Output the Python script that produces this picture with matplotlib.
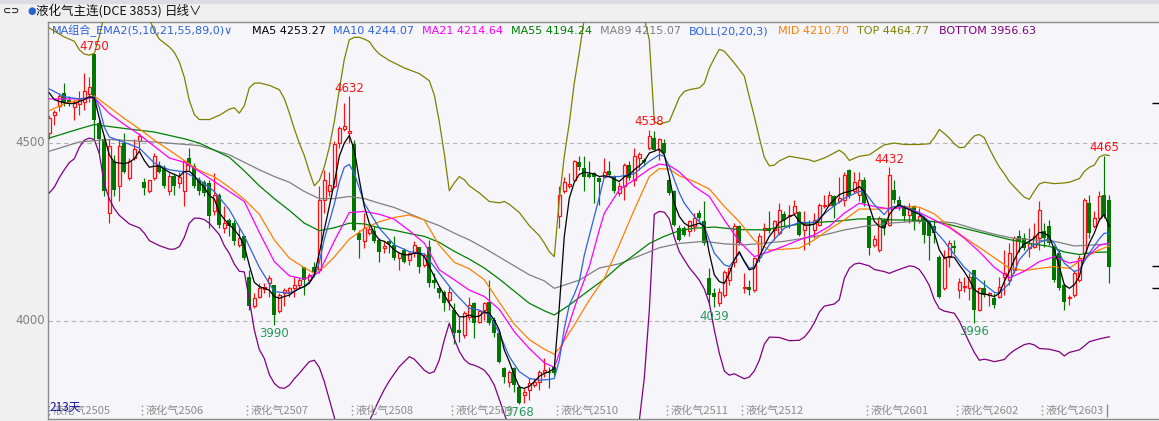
import numpy as np
import matplotlib
matplotlib.use("Agg")
import matplotlib.pyplot as plt
from matplotlib.patches import Rectangle

# ---- daily candles (213 days) ----
opens = [4528, 4579, 4603, 4641, 4620, 4602, 4611, 4616, 4639, 4749,
         4556, 4510, 4303, 4449, 4378, 4500, 4402, 4458, 4505, 4390,
         4364, 4402, 4439, 4430, 4364, 4408, 4388, 4364, 4458, 4436,
         4397, 4392, 4388, 4308, 4355, 4261, 4284, 4275, 4214, 4238,
         4125, 4041, 4069, 4089, 4106, 4102, 4027, 4078, 4083, 4092,
         4102, 4153, 4116, 4153, 4144, 4341, 4364, 4378, 4500, 4540,
         4528, 4496, 4247, 4224, 4247, 4252, 4228, 4205, 4224, 4214,
         4177, 4200, 4172, 4191, 4209, 4158, 4209, 4116, 4092, 4083,
         4059, 4031, 3975, 3961, 4012, 4050, 3998, 4031, 4055, 4003,
         3966, 3867, 3830, 3867, 3815, 3792, 3806, 3820, 3830, 3858,
         3858, 3872, 4294, 4364, 4378, 4397, 4446, 4430, 4414, 4416,
         4402, 4406, 4422, 4405, 4360, 4378, 4439, 4397, 4458, 4453,
         4486, 4514, 4481, 4500, 4397, 4364, 4261, 4261, 4252, 4266,
         4303, 4280, 4120, 4078, 4050, 4073, 4116, 4167, 4266, 4092,
         4097, 4087, 4181, 4256, 4261, 4256, 4247, 4301, 4294, 4303,
         4306, 4256, 4270, 4256, 4270, 4322, 4327, 4350, 4336, 4341,
         4423, 4364, 4355, 4397, 4294, 4214, 4200, 4284, 4270, 4369,
         4341, 4322, 4299, 4322, 4280, 4289, 4280, 4266, 4181, 4092,
         4181, 4211, 4087, 4095, 4092, 4144, 4031, 4092, 4073, 4064,
         4069, 4125, 4116, 4144, 4238, 4233, 4205, 4209, 4233, 4252,
         4266, 4209, 4191, 4102, 4064, 4073, 4116, 4191, 4331, 4266,
         4289, 4355, 4341]
highs = [4580, 4594, 4641, 4669, 4632, 4622, 4646, 4697, 4686, 4750,
         4566, 4524, 4510, 4467, 4510, 4528, 4458, 4510, 4528, 4402,
         4397, 4472, 4449, 4439, 4416, 4416, 4420, 4453, 4486, 4444,
         4406, 4397, 4397, 4416, 4360, 4322, 4289, 4284, 4261, 4242,
         4144, 4078, 4106, 4106, 4130, 4102, 4078, 4092, 4097, 4125,
         4120, 4153, 4134, 4167, 4378, 4425, 4420, 4505, 4547, 4613,
         4632, 4508, 4256, 4303, 4270, 4266, 4233, 4224, 4228, 4238,
         4195, 4205, 4195, 4224, 4209, 4191, 4228, 4134, 4097, 4087,
         4097, 4050, 4012, 4027, 4069, 4055, 4031, 4055, 4116, 4012,
         3970, 3872, 3862, 3872, 3820, 3811, 3839, 3839, 3862, 3895,
         3872, 3877, 4378, 4406, 4416, 4453, 4463, 4463, 4449, 4420,
         4406, 4458, 4449, 4411, 4392, 4444, 4449, 4486, 4474, 4458,
         4538, 4533, 4514, 4510, 4402, 4369, 4270, 4266, 4284, 4303,
         4313, 4336, 4148, 4092, 4092, 4144, 4153, 4275, 4270, 4134,
         4116, 4181, 4247, 4275, 4308, 4284, 4331, 4308, 4327, 4341,
         4308, 4308, 4284, 4303, 4331, 4355, 4364, 4355, 4406, 4420,
         4427, 4420, 4420, 4406, 4294, 4242, 4294, 4289, 4432, 4397,
         4350, 4327, 4331, 4327, 4317, 4294, 4284, 4280, 4186, 4200,
         4228, 4228, 4120, 4125, 4134, 4144, 4097, 4116, 4083, 4078,
         4125, 4200, 4219, 4238, 4256, 4247, 4261, 4275, 4336, 4275,
         4284, 4214, 4200, 4106, 4073, 4144, 4186, 4346, 4355, 4308,
         4364, 4465, 4355]
lows = [4510, 4552, 4589, 4603, 4603, 4566, 4580, 4594, 4615, 4510,
        4472, 4350, 4275, 4350, 4336, 4416, 4397, 4453, 4477, 4355,
        4360, 4397, 4416, 4374, 4355, 4355, 4374, 4322, 4425, 4374,
        4355, 4350, 4261, 4299, 4261, 4247, 4238, 4214, 4209, 4172,
        4031, 4036, 4064, 4078, 4069, 3990, 4022, 4041, 4069, 4069,
        4092, 4073, 4111, 4134, 4134, 4303, 4350, 4374, 4486, 4533,
        4500, 4252, 4177, 4205, 4242, 4219, 4167, 4191, 4191, 4172,
        4144, 4163, 4158, 4181, 4134, 4153, 4097, 4092, 4064, 4027,
        4031, 3937, 3942, 3952, 4003, 3952, 3994, 4003, 3989, 3956,
        3881, 3825, 3815, 3801, 3768, 3770, 3778, 3815, 3806, 3844,
        3811, 3848, 4261, 4360, 4374, 4392, 4425, 4364, 4402, 4331,
        4327, 4402, 4406, 4360, 4350, 4341, 4397, 4378, 4425, 4435,
        4481, 4481, 4453, 4467, 4355, 4266, 4224, 4238, 4238, 4252,
        4284, 4214, 4045, 4039, 4041, 4069, 4102, 4153, 4214, 4078,
        4073, 4083, 4167, 4219, 4247, 4228, 4242, 4266, 4261, 4299,
        4238, 4200, 4214, 4233, 4266, 4317, 4322, 4289, 4331, 4322,
        4346, 4360, 4336, 4322, 4186, 4209, 4195, 4242, 4266, 4331,
        4313, 4280, 4275, 4256, 4275, 4219, 4172, 4219, 4064, 4087,
        4153, 4191, 4064, 4083, 4059, 3996, 4027, 4069, 4041, 4036,
        4064, 4073, 4102, 4134, 4195, 4200, 4181, 4205, 4200, 4209,
        4214, 4111, 4087, 4031, 4045, 4069, 4111, 4177, 4233, 4261,
        4280, 4289, 4106]
closes = [4571, 4587, 4633, 4613, 4611, 4615, 4622, 4646, 4658, 4566,
          4510, 4364, 4491, 4369, 4491, 4420, 4449, 4483, 4519, 4374,
          4395, 4465, 4420, 4378, 4408, 4378, 4406, 4449, 4435, 4378,
          4364, 4360, 4294, 4355, 4270, 4275, 4266, 4224, 4233, 4177,
          4041, 4064, 4092, 4097, 4120, 4017, 4073, 4087, 4092, 4102,
          4116, 4116, 4130, 4139, 4341, 4397, 4383, 4496, 4542, 4549,
          4533, 4256, 4228, 4261, 4258, 4224, 4195, 4211, 4217, 4177,
          4191, 4167, 4191, 4214, 4153, 4186, 4106, 4106, 4078, 4050,
          4083, 3966, 3966, 4022, 4045, 3994, 4027, 4050, 3994, 3966,
          3886, 3844, 3858, 3820, 3769, 3801, 3825, 3830, 3858, 3862,
          3853, 3853, 4355, 4392, 4386, 4449, 4433, 4406, 4406, 4406,
          4392, 4420, 4411, 4364, 4378, 4439, 4402, 4463, 4469, 4446,
          4519, 4481, 4510, 4472, 4360, 4270, 4228, 4242, 4280, 4289,
          4289, 4219, 4073, 4069, 4083, 4139, 4148, 4266, 4219, 4095,
          4087, 4177, 4238, 4261, 4252, 4280, 4313, 4284, 4299, 4322,
          4242, 4270, 4266, 4284, 4327, 4327, 4355, 4322, 4346, 4411,
          4350, 4392, 4397, 4331, 4205, 4230, 4289, 4261, 4411, 4341,
          4322, 4294, 4317, 4280, 4294, 4242, 4238, 4247, 4069, 4177,
          4219, 4205, 4111, 4099, 4125, 4031, 4092, 4073, 4078, 4045,
          4097, 4134, 4191, 4233, 4224, 4205, 4219, 4238, 4313, 4233,
          4219, 4116, 4092, 4055, 4069, 4134, 4177, 4341, 4247, 4289,
          4350, 4294, 4153]

# ---- indicator lines ----
ma5 = [4641, 4622, 4617, 4613, 4611, 4611, 4617, 4622, 4630, 4627,
       4570, 4519, 4467, 4446, 4444, 4442, 4446, 4456, 4477, 4451,
       4432, 4435, 4435, 4427, 4418, 4412, 4406, 4420, 4421, 4408,
       4390, 4375, 4353, 4343, 4305, 4286, 4271, 4257, 4239, 4211,
       4157, 4109, 4097, 4092, 4087, 4069, 4064, 4069, 4073, 4083,
       4092, 4097, 4106, 4130, 4191, 4256, 4322, 4388, 4463, 4500,
       4521, 4481, 4397, 4322, 4275, 4247, 4228, 4224, 4214, 4200,
       4191, 4186, 4186, 4191, 4191, 4181, 4153, 4125, 4097, 4073,
       4050, 4031, 4012, 4012, 4017, 4012, 4014, 4026, 4022, 4003,
       3975, 3919, 3886, 3848, 3815, 3811, 3817, 3830, 3845, 3853,
       3858, 3867, 4040, 4238, 4345, 4390, 4412, 4418, 4416, 4413,
       4406, 4408, 4406, 4399, 4392, 4405, 4411, 4425, 4436, 4449,
       4472, 4477, 4483, 4467, 4406, 4331, 4294, 4275, 4266, 4270,
       4275, 4266, 4191, 4130, 4111, 4106, 4134, 4172, 4195, 4167,
       4144, 4148, 4181, 4211, 4238, 4256, 4277, 4284, 4294, 4299,
       4280, 4270, 4270, 4272, 4284, 4303, 4327, 4341, 4355, 4361,
       4364, 4369, 4378, 4364, 4322, 4280, 4266, 4261, 4299, 4317,
       4327, 4319, 4313, 4306, 4300, 4289, 4275, 4247, 4200, 4177,
       4181, 4179, 4158, 4139, 4116, 4089, 4078, 4076, 4073, 4069,
       4078, 4111, 4139, 4172, 4200, 4217, 4224, 4233, 4249, 4247,
       4238, 4200, 4153, 4102, 4092, 4102, 4125, 4181, 4219, 4247,
       4284, 4299, 4266]

ma10_idx = [0, 3, 6, 9, 10, 11, 12, 15, 18, 21, 24, 27, 30, 33, 36, 39, 42, 45, 48, 51,
            53, 54, 55, 57, 58, 59, 60, 61, 63, 66, 69, 72, 75, 78, 81, 84, 86, 88, 90, 92,
            94, 96, 98, 100, 101, 102, 103, 104, 105, 106, 107, 108, 109, 110, 111, 114, 117, 120, 122, 123,
            124, 125, 126, 127, 129, 131, 132, 133, 135, 136, 138, 140, 141, 144, 147, 150, 153, 156, 159, 162,
            163, 165, 167, 168, 169, 171, 174, 176, 177, 179, 180, 183, 186, 189, 190, 192, 194, 196, 198, 200,
            201, 203, 205, 206, 208, 210, 211, 212]
ma10 = [4652, 4630, 4624, 4630, 4600, 4545, 4517, 4502, 4486, 4444, 4425, 4419, 4397, 4364, 4313, 4239, 4151, 4083, 4078, 4097,
        4125, 4165, 4230, 4328, 4390, 4432, 4440, 4415, 4331, 4261, 4214, 4195, 4189, 4134, 4080, 4036, 4031, 4017, 3966, 3900,
        3858, 3839, 3834, 3836, 3839, 3890, 3979, 4045, 4075, 4112, 4185, 4240, 4294, 4348, 4405, 4406, 4414, 4449, 4467, 4463,
        4435, 4397, 4360, 4331, 4294, 4266, 4228, 4191, 4158, 4153, 4191, 4148, 4153, 4214, 4261, 4277, 4277, 4313, 4345, 4364,
        4364, 4327, 4299, 4317, 4322, 4322, 4303, 4280, 4256, 4224, 4205, 4151, 4114, 4081, 4078, 4106, 4172, 4205, 4221, 4231,
        4219, 4163, 4139, 4144, 4191, 4231, 4247, 4245]

ma21_idx = [0, 6, 9, 12, 15, 18, 21, 24, 27, 30, 33, 36, 39, 42, 45, 48, 51, 54, 57, 60,
            63, 66, 69, 72, 75, 78, 81, 84, 87, 90, 93, 96, 99, 101, 102, 104, 106, 108, 110, 111,
            114, 117, 120, 122, 124, 126, 129, 132, 135, 138, 141, 144, 147, 150, 153, 156, 159, 162, 165, 168,
            171, 174, 177, 180, 183, 186, 189, 192, 195, 198, 201, 204, 207, 210, 212]
ma21 = [4624, 4624, 4627, 4583, 4552, 4524, 4491, 4458, 4446, 4420, 4392, 4364, 4336, 4249, 4167, 4127, 4118, 4137, 4225, 4305,
        4308, 4300, 4286, 4254, 4219, 4144, 4116, 4087, 4069, 4033, 3970, 3923, 3883, 3870, 3909, 3994, 4078, 4153, 4256, 4303,
        4369, 4397, 4427, 4441, 4437, 4419, 4378, 4350, 4284, 4224, 4181, 4195, 4211, 4228, 4242, 4266, 4303, 4331, 4322, 4315,
        4319, 4305, 4284, 4263, 4233, 4195, 4151, 4121, 4140, 4167, 4181, 4163, 4172, 4213, 4219]

mid_idx = [0, 3, 6, 9, 12, 15, 18, 21, 24, 27, 30, 33, 36, 39, 42, 45, 48, 51, 53, 55,
           57, 60, 63, 66, 69, 72, 75, 78, 81, 84, 87, 90, 93, 96, 99, 101, 102, 105, 108, 111,
           114, 117, 120, 122, 124, 126, 129, 132, 135, 138, 141, 144, 147, 150, 153, 156, 159, 162, 165, 168,
           171, 174, 177, 180, 183, 186, 189, 192, 195, 198, 201, 204, 207, 210, 212]
mid = [4591, 4610, 4622, 4632, 4601, 4569, 4540, 4508, 4480, 4451, 4423, 4405, 4376, 4342, 4300, 4228, 4177, 4150, 4134, 4152,
       4180, 4230, 4260, 4279, 4291, 4298, 4284, 4213, 4165, 4147, 4116, 4053, 3991, 3948, 3921, 3907, 3923, 3989, 4059, 4120,
       4214, 4313, 4406, 4428, 4427, 4408, 4392, 4371, 4322, 4279, 4227, 4199, 4202, 4205, 4228, 4258, 4284, 4315, 4314, 4317,
       4322, 4320, 4301, 4266, 4235, 4207, 4178, 4149, 4142, 4148, 4153, 4148, 4179, 4200, 4211]

ma55_idx = [0, 6, 9, 15, 21, 27, 30, 33, 36, 39, 42, 45, 48, 51, 54, 57, 60, 63, 66, 69,
            72, 75, 78, 81, 84, 87, 90, 93, 96, 99, 101, 104, 108, 111, 114, 117, 120, 123, 126, 129,
            133, 138, 143, 147, 152, 157, 162, 166, 169, 173, 177, 180, 184, 188, 192, 196, 200, 203, 206, 209, 212]
ma55 = [4514, 4540, 4552, 4541, 4531, 4512, 4500, 4480, 4460, 4422, 4380, 4344, 4311, 4275, 4254, 4262, 4275, 4273, 4262, 4255,
        4246, 4238, 4221, 4196, 4174, 4149, 4118, 4084, 4050, 4029, 4017, 4045, 4087, 4118, 4155, 4186, 4218, 4238, 4254, 4261,
        4264, 4257, 4256, 4266, 4276, 4280, 4287, 4287, 4284, 4284, 4279, 4271, 4257, 4243, 4229, 4218, 4210, 4194, 4187, 4193, 4194]

ma89_idx = [0, 6, 12, 21, 30, 36, 42, 45, 48, 51, 54, 57, 60, 63, 66, 69, 72, 75, 78, 81,
            84, 87, 90, 93, 96, 99, 101, 103, 106, 110, 114, 118, 122, 126, 131, 135, 139, 143, 147, 151,
            155, 159, 163, 167, 169, 173, 177, 181, 185, 189, 193, 197, 201, 205, 209, 212]
ma89 = [4477, 4503, 4510, 4503, 4493, 4467, 4425, 4406, 4390, 4364, 4344, 4344, 4350, 4344, 4331, 4319, 4302, 4284, 4268, 4247,
        4228, 4205, 4180, 4155, 4130, 4113, 4092, 4101, 4115, 4149, 4161, 4183, 4206, 4218, 4224, 4217, 4214, 4219, 4224, 4233,
        4242, 4256, 4266, 4273, 4276, 4280, 4280, 4276, 4259, 4244, 4232, 4228, 4224, 4211, 4214, 4217]

top_idx = [0, 3, 5, 6, 7, 8, 9, 10, 11, 14, 18, 20, 21, 22, 24, 25, 26, 27, 28, 29,
           30, 32, 34, 36, 37, 38, 39, 40, 41, 42, 44, 46, 47, 48, 49, 50, 51, 52, 53, 54,
           55, 56, 57, 58, 59, 60, 61, 62, 63, 64, 65, 66, 68, 71, 74, 76, 77, 78, 79, 80,
           81, 82, 83, 84, 86, 88, 90, 91, 92, 94, 96, 98, 99, 100, 101, 102, 103, 104, 105, 106,
           107, 109, 112, 116, 119, 120, 121, 122, 124, 125, 126, 127, 128, 130, 131, 132, 133, 134, 135, 137,
           139, 140, 141, 142, 143, 144, 145, 146, 148, 150, 152, 153, 155, 156, 158, 159, 160, 162, 164, 166,
           167, 169, 171, 174, 176, 177, 178, 179, 180, 181, 182, 183, 184, 185, 186, 187, 188, 189, 190, 191,
           192, 193, 194, 195, 196, 197, 198, 199, 201, 203, 204, 206, 207, 208, 209, 210, 211, 212]
top = [4823, 4798, 4786, 4762, 4750, 4747, 4752, 4800, 4860, 4920, 4900, 4850, 4815, 4792, 4770, 4755, 4728, 4685, 4620, 4580,
       4566, 4566, 4578, 4595, 4599, 4584, 4605, 4655, 4668, 4669, 4662, 4650, 4625, 4585, 4540, 4500, 4465, 4420, 4380, 4395,
       4433, 4488, 4560, 4650, 4735, 4790, 4797, 4797, 4792, 4785, 4765, 4750, 4732, 4711, 4695, 4675, 4635, 4560, 4470, 4366,
       4388, 4406, 4397, 4380, 4360, 4336, 4332, 4336, 4328, 4305, 4268, 4240, 4219, 4195, 4181, 4341, 4463, 4556, 4669, 4755,
       4850, 4930, 4960, 4930, 4850, 4790, 4560, 4553, 4561, 4594, 4628, 4645, 4650, 4655, 4668, 4710, 4738, 4763, 4758, 4725,
       4688, 4630, 4575, 4515, 4460, 4436, 4438, 4450, 4463, 4458, 4453, 4448, 4458, 4465, 4480, 4470, 4451, 4463, 4467, 4486,
       4495, 4500, 4496, 4496, 4498, 4515, 4538, 4527, 4514, 4498, 4487, 4488, 4505, 4520, 4524, 4515, 4485, 4458, 4433, 4414,
       4392, 4377, 4362, 4348, 4342, 4365, 4385, 4390, 4386, 4388, 4390, 4400, 4420, 4432, 4438, 4461, 4467, 4465]

bottom_idx = [0, 1, 2, 3, 4, 5, 6, 7, 8, 9, 10, 11, 12, 13, 14, 16, 18, 19, 20, 22,
              24, 25, 26, 27, 28, 29, 30, 31, 32, 34, 35, 36, 37, 38, 39, 40, 41, 42, 43, 44,
              45, 46, 47, 48, 49, 50, 51, 52, 53, 54, 55, 56, 57, 58, 59, 60, 61, 62, 63, 64,
              65, 66, 67, 68, 70, 72, 73, 75, 76, 77, 78, 79, 80, 81, 82, 83, 84, 85, 86, 87,
              88, 89, 90, 91, 92, 94, 100, 105, 110, 115, 117, 118, 119, 120, 121, 122, 123, 124, 125, 126,
              127, 128, 129, 130, 131, 132, 133, 134, 135, 136, 137, 138, 139, 140, 141, 142, 143, 144, 146, 148,
              150, 151, 152, 153, 154, 155, 157, 158, 159, 160, 161, 162, 164, 165, 167, 168, 169, 171, 172, 173,
              174, 175, 176, 177, 178, 179, 181, 182, 183, 184, 185, 186, 187, 188, 189, 191, 192, 193, 195, 196,
              197, 198, 200, 202, 203, 204, 206, 207, 208, 210, 212]
bottom = [4360, 4376, 4403, 4425, 4445, 4456, 4488, 4508, 4514, 4510, 4470, 4385, 4343, 4316, 4297, 4273, 4262, 4247, 4226, 4212,
          4202, 4202, 4209, 4235, 4275, 4289, 4289, 4285, 4275, 4243, 4212, 4190, 4160, 4140, 4138, 4060, 3975, 3920, 3895, 3850,
          3825, 3813, 3811, 3820, 3838, 3853, 3870, 3886, 3890, 3870, 3830, 3780, 3730, 3650, 3600, 3580, 3600, 3640, 3690, 3718,
          3750, 3780, 3808, 3832, 3872, 3900, 3893, 3862, 3853, 3858, 3891, 3947, 3994, 3950, 3915, 3892, 3880, 3876, 3870, 3862,
          3845, 3820, 3780, 3740, 3700, 3600, 3450, 3400, 3380, 3450, 3600, 3720, 3840, 4030, 4300, 4308, 4306, 4287, 4235, 4195,
          4172, 4150, 4133, 4115, 4090, 4050, 3975, 3910, 3860, 3848, 3852, 3845, 3838, 3843, 3860, 3890, 3935, 3955, 3954, 3945,
          3946, 3955, 3972, 3995, 4025, 4042, 4048, 4060, 4120, 4148, 4160, 4163, 4155, 4145, 4139, 4134, 4140, 4150, 4155, 4153,
          4145, 4125, 4100, 4060, 4035, 4028, 4022, 4000, 3970, 3940, 3912, 3890, 3893, 3890, 3886, 3892, 3907, 3918, 3934, 3937,
          3933, 3923, 3921, 3914, 3902, 3912, 3919, 3930, 3942, 3950, 3956]

# ---- labels ----
contract_start = [0, 19, 40, 61, 81, 102, 124, 139, 164, 182, 199]
contract_names = ["液化气2505", "液化气2506", "液化气2507", "液化气2508", "液化气2509", "液化气2510",
                  "液化气2511", "液化气2512", "液化气2601", "液化气2602", "液化气2603"]
high_marks = [9, 60, 120, 168, 211]
low_marks = [45, 94, 133, 185]
right_marks = [4612, 4154, 4093]

legend_texts = ["MA组合_EMA2(5,10,21,55,89,0)∨", "MA5 4253.27", "MA10 4244.07", "MA21 4214.64",
                "MA55 4194.24", "MA89 4215.07", "BOLL(20,20,3)", "MID 4210.70", "TOP 4464.77",
                "BOTTOM 3956.63"]
legend_x = [52, 252, 333, 422, 511, 600, 689, 778, 857, 939]

RED = "#ff1010"
GREEN = "#007800"
BLUE = "#2f62dc"
MAG = "#ff00ff"
ORANGE = "#ff8000"
DKGREEN = "#008000"
GREY = "#808080"
OLIVE = "#808000"
PURPLE = "#800080"
BG = "#f5f5fa"
CJK = ["Noto Sans CJK SC", "DejaVu Sans"]
LAT = ["DejaVu Sans", "Noto Sans CJK SC"]
legend_colors = [BLUE, "black", BLUE, MAG, DKGREEN, GREY, BLUE, ORANGE, OLIVE, PURPLE]

W, H = 1159, 421
fig = plt.figure(figsize=(W / 100, H / 100), dpi=100)
fig.patch.set_facecolor("#f0f0f0")
fig.patches.append(Rectangle((0, 1 - 3 / H), 1, 3 / H, transform=fig.transFigure,
                             color="#dcdce2", zorder=0))


def fy(py):
    return 1 - py / H


ax = fig.add_axes([48 / W, 2 / H, (W - 48) / W, 397 / H])
ax.set_facecolor(BG)
ax.set_xlim(-0.26, 221.94)
ax.set_ylim(3725, 4840)
ax.set_xticks([])
ax.set_yticks([])
ax.spines["right"].set_visible(False)
for s in ["left", "bottom", "top"]:
    ax.spines[s].set_color("#8c8c8c")
    ax.spines[s].set_linewidth(1)


def ay(py):
    # axes fraction for a figure pixel row
    return (419 - py) / 397


for lvl in [4500, 4000]:
    ax.axhline(lvl, color="#b4b4b4", lw=0.8, ls=(0, (4, 3)), zorder=1)

# candles
o = np.array(opens, float)
h = np.array(highs, float)
l = np.array(lows, float)
c = np.array(closes, float)
x = np.arange(len(c))
up = c >= o
btop = np.maximum(o, c)
bbot = np.minimum(o, c)
bh = np.maximum(btop - bbot, 1.5)

ax.vlines(x[up], btop[up], h[up], colors=RED, lw=0.85, zorder=2)
ax.vlines(x[up], l[up], bbot[up], colors=RED, lw=0.85, zorder=2)
ax.bar(x[up], bh[up], bottom=bbot[up], width=0.66, facecolor=BG, edgecolor=RED,
       linewidth=0.9, zorder=2)
ax.vlines(x[~up], l[~up], h[~up], colors=GREEN, lw=0.85, zorder=2)
ax.bar(x[~up], bh[~up], bottom=bbot[~up], width=0.8, color=GREEN, linewidth=0, zorder=2)

# indicator lines
ax.plot(top_idx, top, color=OLIVE, lw=0.9, zorder=3)
ax.plot(bottom_idx, bottom, color=PURPLE, lw=0.9, zorder=3)
ax.plot(ma89_idx, ma89, color=GREY, lw=0.9, zorder=3)
ax.plot(ma55_idx, ma55, color=DKGREEN, lw=0.9, zorder=3)
ax.plot(mid_idx, mid, color=ORANGE, lw=0.9, zorder=3)
ax.plot(ma21_idx, ma21, color=MAG, lw=0.9, zorder=3)
ax.plot(ma10_idx, ma10, color=BLUE, lw=0.9, zorder=3)
ax.plot(x, ma5, color="black", lw=0.9, zorder=4)

# extreme price labels
for i in high_marks:
    ax.annotate(f"{highs[i]}", xy=(i, highs[i]), xytext=(0, 1), textcoords="offset points",
                ha="center", va="bottom", color=RED, fontsize=8.5, zorder=5)
for i in low_marks:
    ax.annotate(f"{lows[i]}", xy=(i, lows[i]), xytext=(0, -2), textcoords="offset points",
                ha="center", va="top", color="#2a9a5a", fontsize=8.5, zorder=5)

ax.hlines(right_marks, 220.5, 221.94, colors="black", lw=1, zorder=5)

# contract labels along the bottom
trans = ax.get_xaxis_transform()
for i, name in zip(contract_start, contract_names):
    xb = max(i - 0.5, -0.1)
    ax.vlines(xb, ay(415), ay(404), transform=trans, colors="#8c8c8c",
              linestyles=(0, (1, 2)), lw=1, zorder=5)
    ax.text(xb + 0.7, ay(411), name, transform=trans, ha="left", va="center",
            fontsize=8, color="#8c8c8c", family=CJK, zorder=5)
ax.vlines(211.6, ay(417), ay(404), transform=trans, colors="#8c8c8c", lw=1, zorder=5)
ax.text(0.0, ay(407), "213天", transform=trans, ha="left", va="center",
        fontsize=8.5, color="#1414a0", family=CJK, zorder=6)

# y labels
for lvl, py in [(4500, 143), (4000, 321)]:
    fig.text(45 / W, fy(py), str(lvl), ha="right", va="center", fontsize=8.5, color=GREY)

# header
fig.text(3 / W, fy(11), "⊂⊃", ha="left", va="center", fontsize=7, color="#333333",
         fontweight="bold")
fig.text(27 / W, fy(11), "●", ha="left", va="center", fontsize=7, color="#2a62d0")
fig.text(36 / W, fy(11), "液化气主连(DCE 3853)", ha="left", va="center", fontsize=9,
         color="#111111", family=CJK)
fig.text(165 / W, fy(11), "日线∨", ha="left", va="center", fontsize=9, color="#111111",
         family=CJK)

# indicator legend row
for txt, px, col in zip(legend_texts, legend_x, legend_colors):
    fig.text(px / W, fy(31), txt, ha="left", va="center", fontsize=8, color=col, family=LAT)

fig.savefig("out.png", dpi=100, facecolor=fig.get_facecolor())
